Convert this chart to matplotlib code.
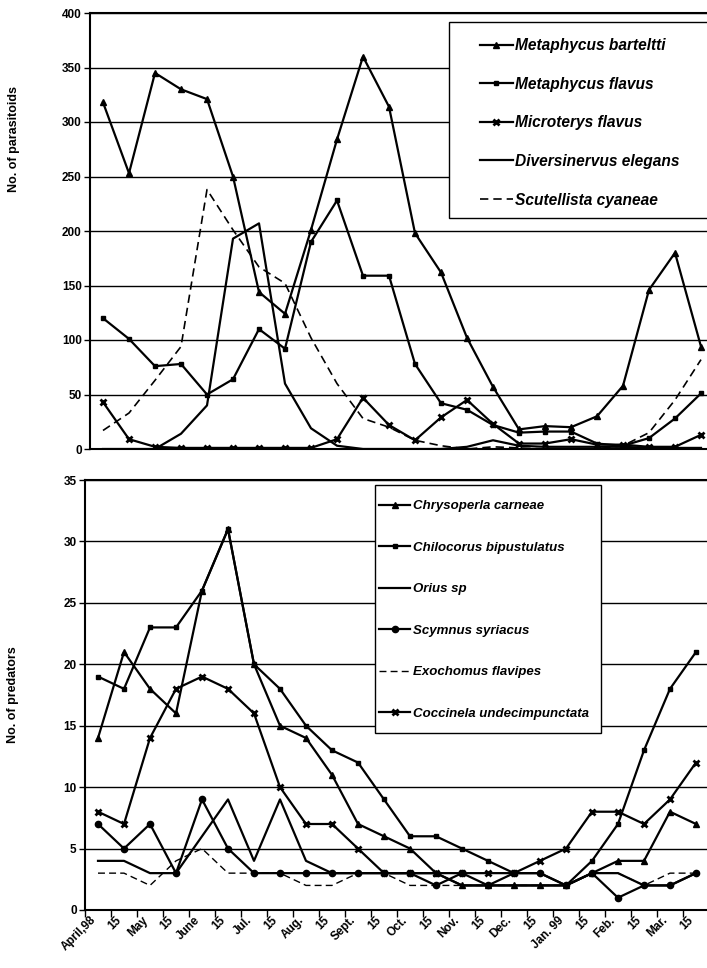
import matplotlib
matplotlib.use("Agg")
import matplotlib.pyplot as plt
from matplotlib.patches import Rectangle

plt.rcParams['font.family'] = ['Liberation Sans', 'DejaVu Sans']

months = ["April,98", "15", "May", "15", "June", "15", "Jul.", "15", "Aug.", "15",
          "Sept.", "15", "Oct.", "15", "Nov.", "15", "Dec.", "15", "Jan. 99", "15",
          "Feb.", "15", "Mar.", "15"]

# Parasitoids
m_barteltti = [318, 253, 345, 330, 321, 250, 144, 124, 201, 284, 360, 314,
               198, 162, 102, 57, 18, 21, 20, 30, 58, 146, 180, 94]
m_flavus = [120, 101, 76, 78, 50, 64, 110, 92, 190, 228, 159, 159,
            78, 42, 36, 22, 15, 16, 16, 5, 3, 10, 28, 51]
microterys = [43, 9, 2, 1, 1, 1, 1, 1, 1, 9, 47, 22,
              8, 29, 45, 23, 5, 5, 9, 4, 4, 2, 2, 13]
diversinervus = [0, 0, 0, 14, 40, 193, 207, 60, 19, 3, 0, 0,
                 0, 0, 2, 8, 3, 2, 2, 2, 2, 1, 1, 1]
scutellista = [17, 33, 63, 94, 238, 201, 167, 152, 102, 60, 28, 20,
               8, 3, 0, 2, 1, 0, 0, 0, 3, 15, 45, 82]

# Predators
chrysoperla = [14, 21, 18, 16, 26, 31, 20, 15, 14, 11, 7, 6,
               5, 3, 2, 2, 2, 2, 2, 3, 4, 4, 8, 7]
chilocorus = [19, 18, 23, 23, 26, 31, 20, 18, 15, 13, 12, 9,
              6, 6, 5, 4, 3, 3, 2, 4, 7, 13, 18, 21]
orius = [4, 4, 3, 3, 6, 9, 4, 9, 4, 3, 3, 3,
         3, 3, 2, 2, 2, 2, 2, 3, 3, 2, 2, 3]
scymnus = [7, 5, 7, 3, 9, 5, 3, 3, 3, 3, 3, 3,
           3, 2, 3, 2, 3, 3, 2, 3, 1, 2, 2, 3]
exochomus = [3, 3, 2, 4, 5, 3, 3, 3, 2, 2, 3, 3,
             2, 2, 2, 2, 2, 2, 2, 3, 3, 2, 3, 3]
coccinela = [8, 7, 14, 18, 19, 18, 16, 10, 7, 7, 5, 3,
             3, 3, 3, 3, 3, 4, 5, 8, 8, 7, 9, 12]

x = list(range(len(months)))

W, H = 707, 968
fig = plt.figure(figsize=(W / 100, H / 100), dpi=100)

def add_ax(left, right, top, bottom):
    return fig.add_axes([left / W, 1 - bottom / H, (right - left) / W, (bottom - top) / H])

ax1 = add_ax(90, 714, 13, 449)
ax2 = add_ax(85, 709, 480, 910)

lw = 1.6
kw = dict(color='black', lw=lw)

ax1.plot(x, m_barteltti, marker='^', ms=5, label='Metaphycus barteltti', **kw)
ax1.plot(x, m_flavus, marker='s', ms=3.5, label='Metaphycus flavus', **kw)
ax1.plot(x, microterys, marker='x', ms=5, mew=2, label='Microterys flavus', **kw)
ax1.plot(x, diversinervus, label='Diversinervus elegans', **kw)
ax1.plot(x, scutellista, color='black', lw=1.2, ls=(0, (5, 3)), label='Scutellista cyaneae')

ax2.plot(x, chrysoperla, marker='^', ms=5, label='Chrysoperla carneae', **kw)
ax2.plot(x, chilocorus, marker='s', ms=3, label='Chilocorus bipustulatus', **kw)
ax2.plot(x, orius, label='Orius sp', **kw)
ax2.plot(x, scymnus, marker='o', ms=4.5, label='Scymnus syriacus', **kw)
ax2.plot(x, exochomus, color='black', lw=1.0, ls=(0, (5, 3)), label='Exochomus flavipes')
ax2.plot(x, coccinela, marker='x', ms=5, mew=2, label='Coccinela undecimpunctata', **kw)

for ax, ymax, step in [(ax1, 400, 50), (ax2, 35, 5)]:
    ax.set_xlim(-0.5, len(months) - 0.5)
    ax.set_ylim(0, ymax)
    ax.set_yticks(range(0, ymax + 1, step))
    ax.yaxis.grid(True, color='black', lw=1.0)
    ax.set_axisbelow(True)
    for s in ['top', 'left', 'bottom']:
        ax.spines[s].set_linewidth(1.5)
    ax.spines['right'].set_visible(False)
    ax.tick_params(axis='y', length=4, width=1, labelsize=8.5, pad=2)
    for t in ax.get_yticklabels():
        t.set_fontweight('bold')

ax1.set_xticks([])

ax2.set_xticks(x)
ax2.set_xticklabels(months, rotation=45, ha='right', fontsize=8.5, fontweight='bold')
ax2.tick_params(axis='x', which='major', length=0, pad=3)
ax2.set_xticks([i - 0.5 for i in range(len(months) + 1)], minor=True)
ax2.tick_params(axis='x', which='minor', length=5, width=1)

ax1.set_ylabel('No. of parasitoids', fontsize=9, fontweight='bold')
ax1.yaxis.set_label_coords(-0.112, 0.71)
ax2.set_ylabel('No. of predators', fontsize=9, fontweight='bold')
ax2.yaxis.set_label_coords(-0.106, 0.5)

def fig_box(ax, left, right, top, bottom):
    r = Rectangle((left / W, 1 - bottom / H), (right - left) / W, (bottom - top) / H,
                  transform=fig.transFigure, facecolor='white', edgecolor='black',
                  lw=1.0, clip_on=False, zorder=4)
    ax.add_patch(r)

def fig_to_ax(ax, px, py):
    return ax.transAxes.inverted().transform(fig.transFigure.transform((px / W, 1 - py / H)))

fig_box(ax1, 449, 740, 22, 218)
leg1 = ax1.legend(loc='upper left', bbox_to_anchor=tuple(fig_to_ax(ax1, 480, 38)),
                  frameon=False, prop={'style': 'italic', 'weight': 'bold', 'size': 11.2},
                  handlelength=2.1, handletextpad=0.12, labelspacing=1.52,
                  borderpad=0, borderaxespad=0)
leg1.set_zorder(5)

fig_box(ax2, 375, 601, 485, 733)
leg2 = ax2.legend(loc='upper left', bbox_to_anchor=tuple(fig_to_ax(ax2, 379, 500)),
                  frameon=False, prop={'style': 'italic', 'weight': 'bold', 'size': 9.5},
                  handlelength=2.35, handletextpad=0.2, labelspacing=2.22,
                  borderpad=0, borderaxespad=0)
leg2.set_zorder(5)

fig.savefig('out.png', dpi=100)
